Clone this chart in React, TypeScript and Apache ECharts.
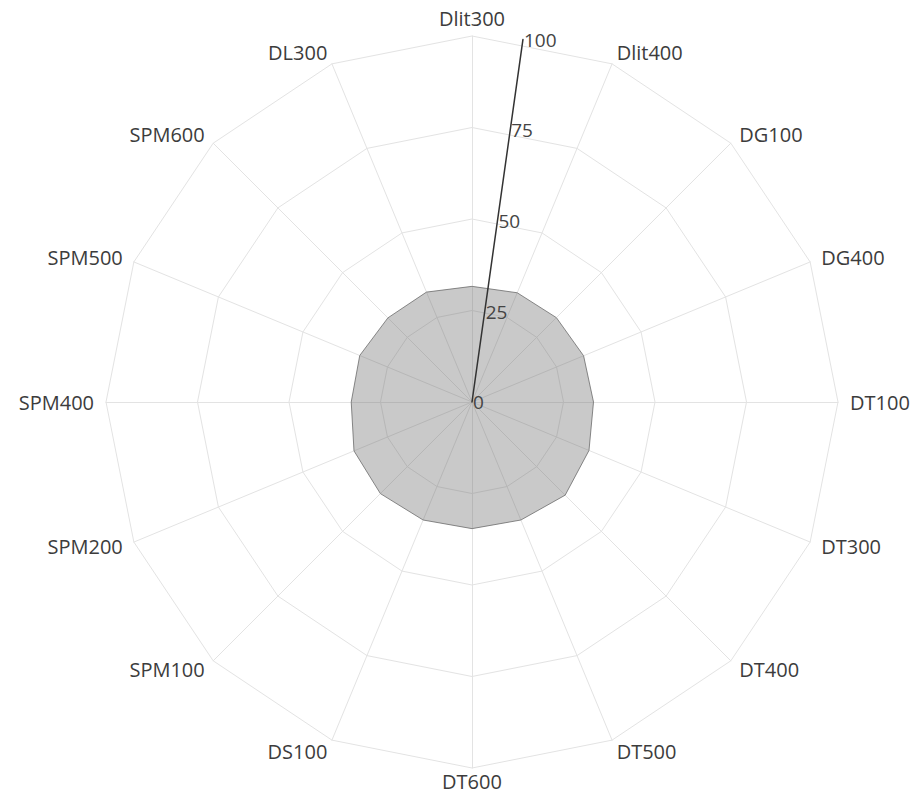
import React, { useEffect, useRef } from "react";
import * as echarts from "echarts";

// Categories in clockwise order starting from the top
const categories = [
  "Dlit300", "Dlit400", "DG100", "DG400", "DT100", "DT300", "DT400", "DT500",
  "DT600", "DS100", "SPM100", "SPM200", "SPM400", "SPM500", "SPM600", "DL300",
];
const values = [
  31.6, 32.3, 32.6, 33, 33.2, 34.6, 36, 34.9,
  34.6, 34.9, 35.4, 34.9, 33, 33.2, 32.5, 32.5,
];
const radialTicks = [0, 25, 50, 75, 100];

export default function App() {
  const ref = useRef<HTMLDivElement>(null);
  useEffect(() => {
    const chart = echarts.init(ref.current!, null, { renderer: "svg" });
    // ECharts radar lays indicators counterclockwise, so reorder
    const order = [0, ...categories.map((_, i) => i).slice(1).reverse()];
    const font = "'Open Sans', 'Noto Sans', sans-serif";
    const topName = categories[0];
    const bottomName = categories[8];
    chart.setOption({
      animation: false,
      backgroundColor: "#ffffff",
      radar: {
        center: [472, 402],
        radius: 366,
        startAngle: 90,
        shape: "polygon",
        splitNumber: 4,
        indicator: order.map((i) => ({ name: categories[i], min: 0, max: 100 })),
        axisName: {
          color: "#3c3c3c",
          fontSize: 20,
          fontFamily: font,
          formatter: (name: string) =>
            name === topName
              ? `{top|${name}}`
              : name === bottomName
              ? `{bot|${name}}`
              : name,
          rich: {
            top: { fontSize: 20, fontFamily: font, color: "#3c3c3c", lineHeight: 12 },
            bot: { fontSize: 20, fontFamily: font, color: "#3c3c3c", lineHeight: 2 },
          },
        },
        nameGap: 12,
        splitLine: { lineStyle: { color: "#e3e3e3", width: 1 } },
        splitArea: { show: false },
        axisLine: { lineStyle: { color: "#e3e3e3", width: 1 } },
        axisTick: { show: false },
        axisLabel: { show: false },
      },
      polar: { center: [472, 402], radius: 366 },
      angleAxis: { type: "value", min: 0, max: 360, startAngle: 82, show: false },
      radiusAxis: {
        type: "value",
        min: radialTicks[0],
        max: radialTicks[radialTicks.length - 1],
        interval: 25,
        z: 10,
        axisLine: { show: true, lineStyle: { color: "#333", width: 1.5 } },
        axisTick: { show: false },
        splitLine: { show: false },
        axisLabel: {
          color: "#444",
          fontSize: 19,
          fontFamily: font,
          margin: -1,
          align: "left",
          verticalAlign: "middle",
        },
      },
      series: [
        {
          type: "radar",
          symbol: "none",
          z: 2,
          lineStyle: { color: "#8c8c8c", width: 1 },
          areaStyle: { color: "rgba(100,100,100,0.35)", opacity: 1 },
          data: [{ value: order.map((i) => values[i]), name: "values" }],
        },
      ],
    });
    return () => chart.dispose();
  }, []);
  return (
    <div
      ref={ref}
      style={{ position: "absolute", left: 0, top: 0, width: 919, height: 794 }}
    />
  );
}
